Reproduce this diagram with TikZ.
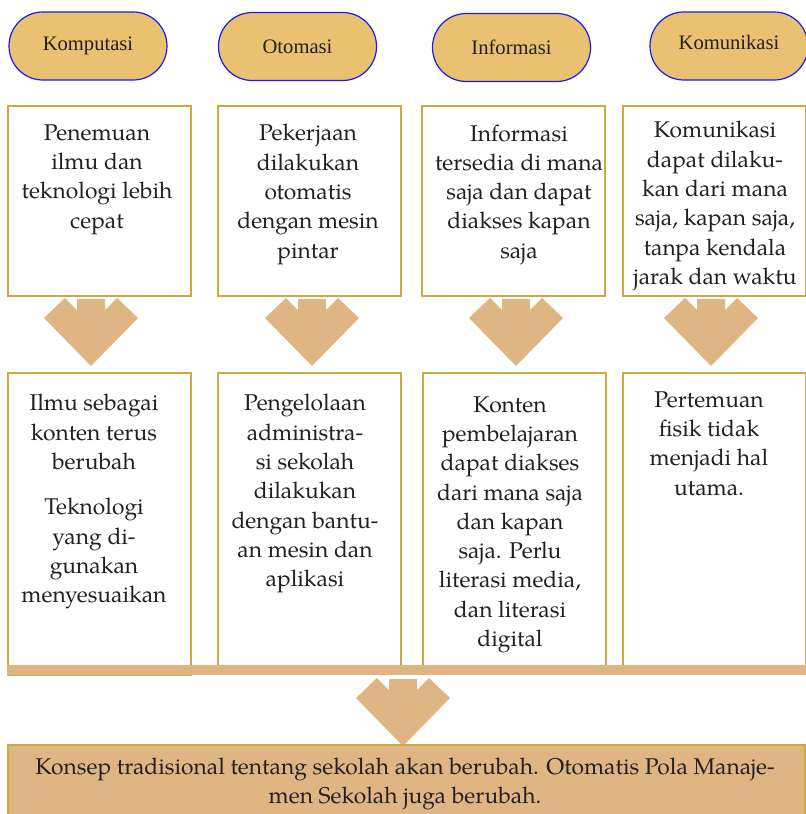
\documentclass[tikz,border=0pt]{standalone}
\usepackage{fontspec}
\setmainfont{TeX Gyre Pagella}
\newfontfamily\pillfont{Liberation Serif}
\usetikzlibrary{positioning}
\definecolor{pillfill}{HTML}{E9C171}
\definecolor{pilledge}{HTML}{1A1AF0}
\definecolor{boxedge}{HTML}{C9AA45}
\definecolor{arrtan}{HTML}{DFB584}
\definecolor{inktext}{HTML}{231F20}

\begin{document}
\begin{tikzpicture}[x=0.5pt, y=-0.5pt,
    pill/.style    = {draw=pilledge, fill=pillfill, line width=0.6pt, rounded corners=16.9pt,
                      minimum width=79pt, minimum height=34pt, inner sep=0pt,
                      font=\pillfont\fontsize{10.3}{12}\selectfont, text=inktext},
    topbox/.style  = {draw=boxedge, line width=0.6pt, minimum width=91.5pt,
                      minimum height=95pt, inner sep=0pt},
    lowbox/.style  = {topbox, minimum height=147.5pt},
    txt/.style     = {anchor=north, align=center, inner sep=0pt, text=inktext,
                      font=\fontsize{11.4}{14.65}\selectfont},
    downarrow/.pic = {\fill[arrtan] (-26,0) -- (-14,12) -- (-14,1) -- (14,1) -- (14,12)
                      -- (26,0) -- (47,20) -- (0,68) -- (-47,20) -- cycle;},
  ]
    \useasboundingbox (0,0) rectangle (805,814);

    %% ── Headers ─────────────────────────────────────────────────────────────
    \node[pill] (komp) at (88,   46)   {Komputasi};
    \node[pill] (otom) at (297.5,46.5) {Otomasi};
    \node[pill] (info) at (511.5,47.5) {Informasi};
    \node[pill, text depth=4pt] (komu) at (729,46) {Komunikasi};

    %% ── Upper boxes ─────────────────────────────────────────────────────────
    \node[topbox] (up1) at (99.5, 201) {};
    \node[topbox] (up2) at (309.5,201) {};
    \node[topbox] (up3) at (513.5,201) {};
    \node[topbox] (up4) at (714.5,201) {};

    \node[txt] (upt1) at (97, 124) {Penemuan\\ilmu dan\\teknologi lebih\\cepat};
    \node[txt] (upt2) at (308,124) {Pekerjaan\\dilakukan\\otomatis\\dengan mesin\\pintar};
    \node[txt] (upt3) at (519,124) {Informasi\\tersedia di mana\\saja dan dapat\\diakses kapan\\saja};
    \node[txt] (upt4) at (715,121) {Komunikasi\\dapat dilaku-\\kan dari mana\\saja, kapan saja,\\tanpa kendala\\jarak dan waktu};

    %% ── Arrows between rows ─────────────────────────────────────────────────
    \pic at (91, 298) {downarrow};
    \pic at (312,298) {downarrow};
    \pic at (516,298) {downarrow};
    \pic at (711,298) {downarrow};

    %% ── Lower boxes ─────────────────────────────────────────────────────────
    \node[lowbox, minimum height=151pt] (lo1) at (99.5, 524) {};
    \node[lowbox] (lo2) at (309.5,520.5) {};
    \node[lowbox] (lo3) at (514.5,520.5) {};
    \node[lowbox] (lo4) at (714.5,520.5) {};

    \node[txt] (lot1) at (94, 394) {Ilmu sebagai\\konten terus\\berubah\\[8pt]Teknologi\\yang di-\\gunakan\\menyesuaikan};
    \node[txt] (lot2) at (305,394) {Pengelolaan\\administra-\\si sekolah\\dilakukan\\dengan bantu-\\an mesin dan\\aplikasi};
    \node[txt] (lot3) at (510,396) {Konten\\pembelajaran\\dapat diakses\\dari mana saja\\dan kapan\\saja. Perlu\\literasi media,\\dan literasi\\digital};
    \node[txt] (lot4) at (709,391) {Pertemuan\\fisik tidak\\menjadi hal\\utama.};

    %% ── Bar, final arrow and conclusion ─────────────────────────────────────
    \fill[arrtan] (7,665) rectangle (806,675);
    \pic at (403,678) {downarrow};

    \node[draw=boxedge, fill=arrtan, line width=0.6pt, minimum width=398.5pt,
          minimum height=39.5pt, inner sep=0pt] (concl) at (406.5,784.5) {};
    \node[txt, anchor=center] (conclt) at (405,784)
          {Konsep tradisional tentang sekolah akan berubah. Otomatis Pola Manaje-\\men Sekolah juga berubah.};

  \end{tikzpicture}
\end{document}
